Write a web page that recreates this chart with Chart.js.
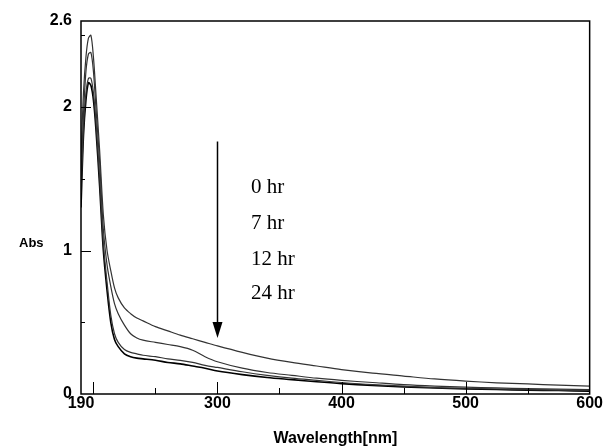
<!DOCTYPE html>
<html>
<head>
<meta charset="utf-8">
<script src="https://cdn.jsdelivr.net/npm/chart.js@4/dist/chart.umd.min.js"></script>
<style>
  html, body { margin: 0; padding: 0; background: #fff; }
  #wrap { width: 603px; height: 448px; }
</style>
</head>
<body>
<div id="wrap"><canvas id="uv" width="603" height="448"></canvas></div>
<script>
// wavelength grid (nm)
const wavelengths = [190,192,194,196,198,200,202,205,208,211,214,217,220,225,230,235,240,250,260,270,280,290,300,320,340,360,380,400,425,450,475,500,525,550,575,600];

// absorbance per sample time
const abs0h  = [1.65,2.10,2.35,2.48,2.50,2.35,2.10,1.70,1.25,1.00,0.86,0.74,0.67,0.60,0.56,0.53,0.51,0.47,0.44,0.41,0.385,0.36,0.335,0.29,0.25,0.22,0.195,0.17,0.145,0.125,0.105,0.09,0.078,0.07,0.062,0.055];
const abs7h  = [1.50,1.95,2.25,2.37,2.38,2.25,2.00,1.62,1.15,0.90,0.75,0.63,0.56,0.48,0.42,0.39,0.375,0.36,0.345,0.33,0.305,0.26,0.225,0.18,0.15,0.13,0.11,0.095,0.08,0.065,0.055,0.048,0.042,0.038,0.034,0.03];
const abs12h = [1.40,1.85,2.10,2.20,2.20,2.10,1.90,1.50,1.05,0.78,0.55,0.42,0.36,0.31,0.29,0.28,0.27,0.26,0.245,0.235,0.22,0.20,0.185,0.155,0.13,0.11,0.095,0.08,0.065,0.055,0.045,0.04,0.035,0.03,0.027,0.025];
const abs24h = [1.30,1.80,2.05,2.17,2.15,2.05,1.85,1.45,1.00,0.72,0.50,0.38,0.33,0.28,0.26,0.25,0.245,0.235,0.22,0.21,0.195,0.18,0.16,0.135,0.115,0.10,0.085,0.072,0.06,0.05,0.042,0.036,0.031,0.027,0.024,0.02];

const seriesNames = ['0 hr','7 hr','12 hr','24 hr'];
const seriesData  = [abs0h, abs7h, abs12h, abs24h];

// axis ticks
const xTicks  = [190,200,250,300,350,400,450,500,550,600];
const xLabels = [190,300,400,500,600];
const yTicks  = [0,0.5,1,1.5,2,2.5,2.6];
const yLabels = [0,1,2,2.6];

// arrow + legend text placement, in data units
const arrowX = 300, arrowFrom = 1.76, arrowTo = 0.39;
const noteX = 327, noteY = [1.44,1.19,0.94,0.70];

const axisFont = { family: '"Liberation Sans", Arial, sans-serif', size: 16, weight: 'bold' };

const frameAndNotes = {
  id: 'frameAndNotes',
  afterDraw(chart) {
    const { ctx, chartArea: a, scales: { x, y } } = chart;
    ctx.save();
    ctx.strokeStyle = '#000';
    ctx.lineWidth = 1.5;
    ctx.strokeRect(a.left, a.top, a.right - a.left, a.bottom - a.top);

    // inward tick marks
    ctx.lineWidth = 1;
    ctx.beginPath();
    xTicks.forEach(v => {
      if (v === 190 || v === 600) return;
      const px = Math.round(x.getPixelForValue(v)) + 0.5;
      const len = v % 100 === 0 ? 12 : 6;
      ctx.moveTo(px, a.bottom); ctx.lineTo(px, a.bottom - len);
    });
    yTicks.forEach(v => {
      if (v === 0 || v === 2.6) return;
      const py = Math.round(y.getPixelForValue(v)) + 0.5;
      const len = Number.isInteger(v) ? 10 : 4;
      ctx.moveTo(a.left, py); ctx.lineTo(a.left + len, py);
    });
    ctx.stroke();

    // y axis name, horizontal
    ctx.fillStyle = '#000';
    ctx.font = 'bold 13px "Liberation Sans", Arial, sans-serif';
    ctx.textAlign = 'left';
    ctx.textBaseline = 'middle';
    ctx.fillText('Abs', 19, 243);

    // arrow
    const ax = Math.round(x.getPixelForValue(arrowX)) + 0.5;
    const ay1 = y.getPixelForValue(arrowFrom), ay2 = y.getPixelForValue(arrowTo);
    ctx.lineWidth = 1.5;
    ctx.beginPath();
    ctx.moveTo(ax, ay1); ctx.lineTo(ax, ay2 - 12);
    ctx.stroke();
    ctx.beginPath();
    ctx.moveTo(ax - 5, ay2 - 16); ctx.lineTo(ax + 5, ay2 - 16); ctx.lineTo(ax, ay2);
    ctx.closePath(); ctx.fill();

    // time labels
    ctx.font = '21px "Liberation Serif", "Times New Roman", serif';
    ctx.textBaseline = 'middle';
    seriesNames.forEach((n, i) => {
      ctx.fillText(n, x.getPixelForValue(noteX), y.getPixelForValue(noteY[i]));
    });
    ctx.restore();
  }
};

new Chart(document.getElementById('uv'), {
  type: 'line',
  data: {
    datasets: seriesNames.map((n, i) => ({
      label: n,
      data: wavelengths.map((w, j) => ({ x: w, y: seriesData[i][j] })),
      borderColor: i === 3 ? '#000' : '#333',
      borderWidth: i === 3 ? 1.6 : 1.2,
      pointRadius: 0,
      tension: 0.3,
      fill: false
    }))
  },
  options: {
    responsive: false,
    animation: false,
    events: [],
    layout: { padding: { left: 0, right: 12, top: 21, bottom: 0 } },
    plugins: { legend: { display: false }, tooltip: { enabled: false } },
    scales: {
      x: {
        type: 'linear', min: 190, max: 600,
        afterBuildTicks: s => { s.ticks = xLabels.map(v => ({ value: v })); },
        ticks: { color: '#000', font: axisFont, padding: 0, maxRotation: 0, autoSkip: false },
        grid: { display: false, drawTicks: false },
        border: { display: false },
        title: { display: true, text: 'Wavelength[nm]', color: '#000', font: axisFont, padding: { top: 10, bottom: 0 } },
        afterFit: s => { s.height = 54; }
      },
      y: {
        type: 'linear', min: 0, max: 2.6,
        afterBuildTicks: s => { s.ticks = yLabels.map(v => ({ value: v })); },
        ticks: { color: '#000', font: axisFont, padding: 9, autoSkip: false },
        grid: { display: false, drawTicks: false },
        border: { display: false },
        afterFit: s => { s.width = 81; }
      }
    }
  },
  plugins: [frameAndNotes]
});
</script>
</body>
</html>
